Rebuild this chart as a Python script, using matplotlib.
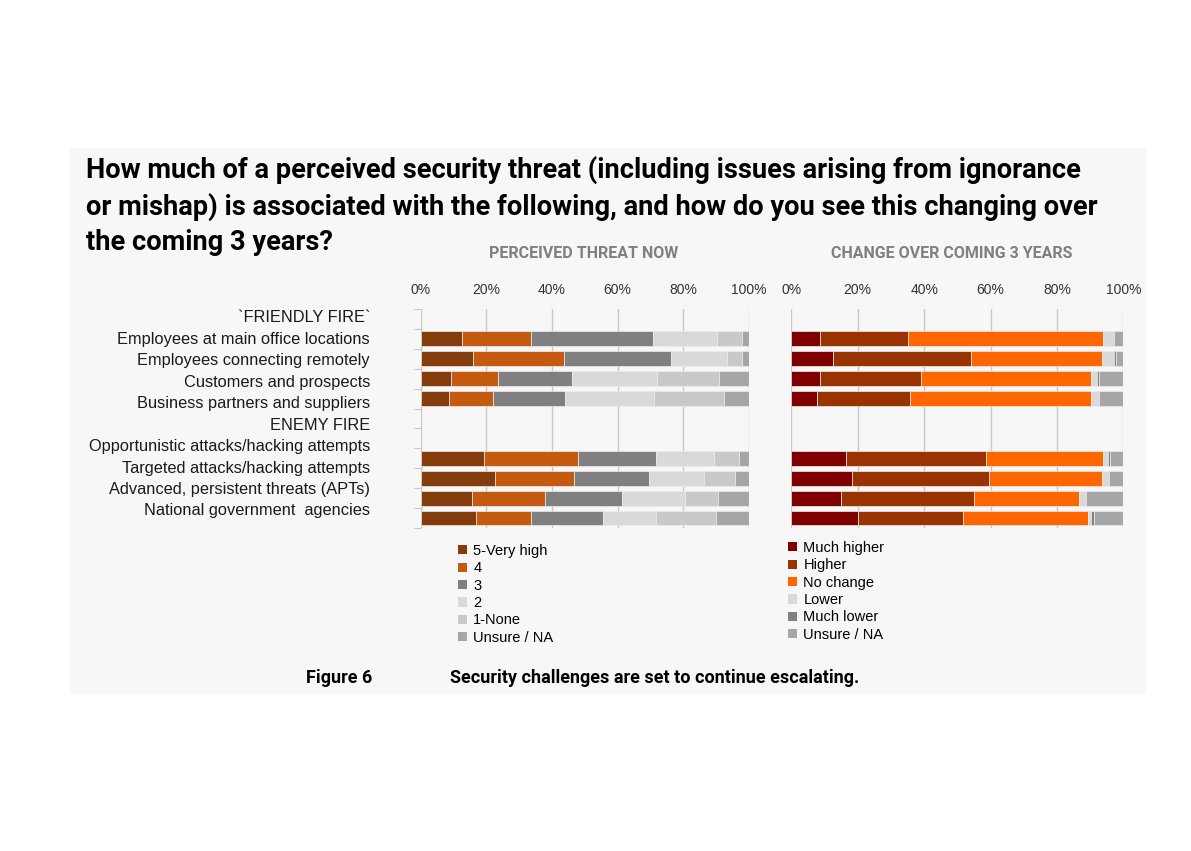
import numpy as np
import matplotlib
matplotlib.use("Agg")
import matplotlib.pyplot as plt
from matplotlib.patches import Rectangle, Patch

# --- data -------------------------------------------------------------
title_lines = ["How much of a perceived security threat (including issues arising from ignorance",
               "or mishap) is associated with the following, and how do you see this changing over",
               "the coming 3 years?"]

row_labels = ["`FRIENDLY FIRE`",
              "Employees at main office locations",
              "Employees connecting remotely",
              "Customers and prospects",
              "Business partners and suppliers",
              "ENEMY FIRE",
              "Opportunistic attacks/hacking attempts",
              "Targeted attacks/hacking attempts",
              "Advanced, persistent threats (APTs)",
              "National government  agencies"]

now_labels = ["5-Very high", "4", "3", "2", "1-None", "Unsure / NA"]
very_high = [12.5, 16.0, 9.2, 8.5, 19.3, 22.6, 15.7, 16.8]
level4 = [21.1, 27.5, 14.3, 13.6, 28.7, 24.0, 22.2, 16.8]
level3 = [37.3, 32.6, 22.6, 22.0, 23.8, 22.9, 23.5, 21.9]
level2 = [19.5, 17.1, 25.9, 27.0, 17.4, 16.9, 19.1, 16.1]
none1 = [7.4, 4.6, 19.0, 21.2, 7.7, 9.4, 10.2, 18.3]
unsure_now = [2.2, 2.2, 9.0, 7.7, 3.1, 4.2, 9.3, 10.1]

chg_labels = ["Much higher", "Higher", "No change", "Lower", "Much lower", "Unsure / NA"]
much_higher = [8.7, 12.6, 8.7, 7.7, 16.4, 18.4, 15.1, 20.2]
higher = [26.3, 41.6, 30.4, 28.1, 42.3, 41.1, 39.9, 31.4]
no_change = [58.9, 39.4, 51.2, 54.5, 35.3, 34.1, 31.8, 37.8]
lower = [3.3, 3.7, 1.7, 2.1, 1.3, 1.8, 2.0, 0.8]
much_lower = [0.0, 0.4, 0.8, 0.4, 0.7, 0.2, 0.0, 1.0]
unsure_chg = [2.8, 2.3, 7.2, 7.2, 4.0, 4.4, 11.2, 8.8]

ticks = [0, 20, 40, 60, 80, 100]

# rows used by bars (gaps for the group headers)
bar_rows = [1, 2, 3, 4, 7, 8, 9, 10]
n_rows = 11

now_colors = ["#843c0c", "#c55a11", "#808080", "#d9d9d9", "#c9c9c9", "#a6a6a6"]
chg_colors = ["#7f0000", "#993300", "#ff6600", "#d9d9d9", "#808080", "#a6a6a6"]

W, H = 1191, 851
narrow = ["Roboto", "DejaVu Sans"]
plain = ["Liberation Sans", "DejaVu Sans"]


def fx(px):
    return px / W


def fy(py):
    return 1 - py / H


fig = plt.figure(figsize=(W / 100, H / 100), dpi=100)
fig.patch.set_facecolor("white")

# grey panel behind everything
fig.patches.append(Rectangle((fx(70), fy(694)), fx(1146) - fx(70), fy(148) - fy(694),
                             transform=fig.transFigure, facecolor="#f7f7f7",
                             edgecolor="none", zorder=-10))

for line, py in zip(title_lines, [170, 206.5, 243]):
    fig.text(fx(86), fy(py), line, ha="left", va="center", fontsize=19.6,
             fontweight="bold", family=narrow, color="black")


def stacked(ax, series, colors, left_ticks):
    ax.set_facecolor("none")
    ax.set_xlim(0, 100)
    ax.set_ylim(n_rows - 0.5, -0.5)
    left = np.zeros(len(bar_rows))
    for vals, col in zip(series, colors):
        ax.barh(bar_rows, vals, left=left, height=0.74, color=col,
                edgecolor="#ececec", linewidth=0.5, zorder=3)
        left += np.array(vals)
    ax.set_xticks(ticks)
    ax.set_xticklabels([f"{t}%" for t in ticks], fontsize=10, family=plain, color="#333333")
    ax.xaxis.tick_top()
    ax.tick_params(axis="x", length=0, pad=8.5)
    ax.grid(axis="x", color="#c8c8c8", linewidth=1, zorder=0)
    ax.set_axisbelow(True)
    for s in ax.spines.values():
        s.set_visible(False)
    if left_ticks:
        ax.set_yticks(np.arange(-0.5, n_rows, 1))
        ax.tick_params(axis="y", length=5, color="#c8c8c8", labelleft=False)
    else:
        ax.set_yticks([])


ax1 = fig.add_axes([fx(420.7), fy(528), fx(749) - fx(420.7), fy(309) - fy(528)], zorder=2)
stacked(ax1, [very_high, level4, level3, level2, none1, unsure_now], now_colors, True)
ax2 = fig.add_axes([fx(791.3), fy(528), fx(1123.3) - fx(791.3), fy(309) - fy(528)], zorder=2)
stacked(ax2, [much_higher, higher, no_change, lower, much_lower, unsure_chg], chg_colors, False)

fig.text(fx(584), fy(254), "PERCEIVED THREAT NOW", ha="center", va="center",
         fontsize=11.5, fontweight="bold", family=narrow, color="#808080")
fig.text(fx(952), fy(254), "CHANGE OVER COMING 3 YEARS", ha="center", va="center",
         fontsize=11.5, fontweight="bold", family=narrow, color="#808080")

# row labels
for lab, py in zip(row_labels, np.linspace(318, 511, len(row_labels))):
    fig.text(fx(370), fy(py), lab, ha="right", va="center", fontsize=11.8,
             family=plain, color="#1a1a1a")

# legends
h1 = [Patch(facecolor=c, edgecolor="none") for c in now_colors]
fig.legend(h1, now_labels, loc="upper left", bbox_to_anchor=(fx(458), fy(544)),
           frameon=False, prop={"family": plain, "size": 10.5},
           handlelength=0.6, handleheight=0.6, handletextpad=0.45,
           labelspacing=0.23, borderpad=0, borderaxespad=0)
h2 = [Patch(facecolor=c, edgecolor="none") for c in chg_colors]
fig.legend(h2, chg_labels, loc="upper left", bbox_to_anchor=(fx(788), fy(541)),
           frameon=False, prop={"family": plain, "size": 10.5},
           handlelength=0.6, handleheight=0.6, handletextpad=0.45,
           labelspacing=0.23, borderpad=0, borderaxespad=0)

fig.text(fx(306), fy(678), "Figure 6", ha="left", va="center", fontsize=13,
         fontweight="bold", family=narrow, color="black")
fig.text(fx(450), fy(678), "Security challenges are set to continue escalating.", ha="left",
         va="center", fontsize=13, fontweight="bold", family=narrow, color="black")

fig.savefig("out.png", dpi=100, facecolor=fig.get_facecolor())
